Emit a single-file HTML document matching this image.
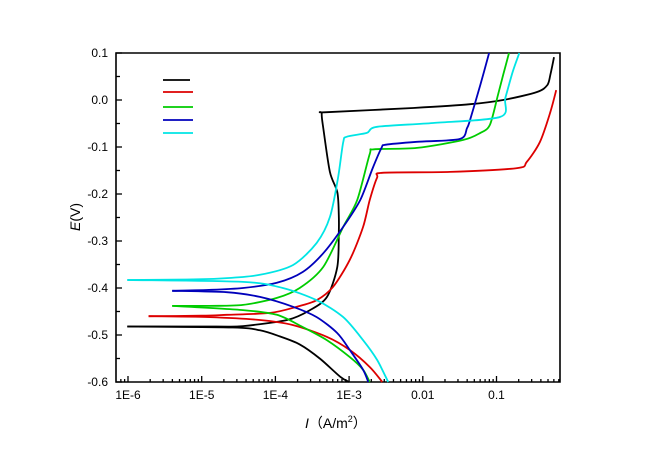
<!DOCTYPE html>
<html><head><meta charset="utf-8"><style>
body{margin:0;background:#fff;}
svg{display:block;font-family:"Liberation Sans","Noto Sans CJK SC",sans-serif;}
</style></head><body>
<svg id="chart" width="650" height="459" viewBox="0 0 650 459"></svg>
<script>
const xTickLabels=["1E-6","1E-5","1E-4","1E-3","0.01","0.1"];
const xTickLogs=[-6,-5,-4,-3,-2,-1];
const yTickValues=[0.1,0.0,-0.1,-0.2,-0.3,-0.4,-0.5,-0.6];
const yTickLabels=["0.1","0.0","-0.1","-0.2","-0.3","-0.4","-0.5","-0.6"];
const seriesColors=["#000000","#dd0000","#00cc00","#0000bb","#00e5e5"];
const blackCathLog=[-6.01,-4.58,-4.21,-3.94,-3.67,-3.39,-3.12,-3.0];
const blackCathE=[-0.482,-0.484,-0.49,-0.503,-0.52,-0.551,-0.589,-0.6];
const blackAnLog=[-6.01,-4.8,-4.44,-3.84,-3.53,-3.30,-3.16,-3.14,-3.14,-3.16,-3.26,-3.35,-3.37,-3.3,-2.13,-1.36,-0.91,-0.45,-0.31,-0.27,-0.22];
const blackAnE=[-0.482,-0.482,-0.481,-0.468,-0.447,-0.419,-0.355,-0.283,-0.245,-0.196,-0.153,-0.06,-0.028,-0.026,-0.017,-0.009,0.0,0.017,0.032,0.053,0.091];
const redCathLog=[-5.72,-4.89,-4.21,-3.76,-3.30,-2.99,-2.72,-2.55];
const redCathE=[-0.46,-0.462,-0.468,-0.479,-0.504,-0.532,-0.568,-0.6];
const redAnLog=[-5.72,-5.0,-4.66,-4.07,-3.71,-3.44,-3.22,-2.99,-2.81,-2.72,-2.62,-2.55,-1.63,-0.72,-0.59,-0.41,-0.27,-0.19];
const redAnE=[-0.46,-0.459,-0.457,-0.453,-0.44,-0.426,-0.398,-0.34,-0.27,-0.213,-0.165,-0.155,-0.153,-0.145,-0.132,-0.089,-0.026,0.021];
const greenCathLog=[-5.4,-4.44,-3.98,-3.63,-3.30,-2.99,-2.81,-2.72];
const greenCathE=[-0.438,-0.447,-0.457,-0.483,-0.511,-0.547,-0.574,-0.6];
const greenAnLog=[-5.4,-4.9,-4.44,-3.98,-3.67,-3.35,-3.08,-2.89,-2.72,-2.66,-2.08,-1.45,-1.22,-1.09,-0.98,-0.91,-0.83];
const greenAnE=[-0.438,-0.438,-0.436,-0.421,-0.4,-0.355,-0.27,-0.213,-0.115,-0.105,-0.102,-0.085,-0.07,-0.053,0.011,0.053,0.1];
const blueCathLog=[-5.4,-4.66,-4.21,-3.76,-3.44,-3.16,-2.99,-2.81,-2.74];
const blueCathE=[-0.406,-0.409,-0.419,-0.44,-0.462,-0.496,-0.532,-0.574,-0.6];
const blueAnLog=[-5.4,-4.9,-4.44,-3.98,-3.63,-3.35,-3.08,-2.85,-2.68,-2.56,-2.50,-2.08,-1.50,-1.40,-1.36,-1.22,-1.10];
const blueAnE=[-0.406,-0.404,-0.4,-0.389,-0.366,-0.326,-0.27,-0.213,-0.145,-0.102,-0.095,-0.089,-0.083,-0.06,-0.043,0.032,0.1];
const cyanCathLog=[-6.01,-4.44,-3.9,-3.44,-3.08,-2.81,-2.62,-2.47];
const cyanCathE=[-0.383,-0.387,-0.4,-0.426,-0.462,-0.511,-0.553,-0.6];
const cyanAnLog=[-6.01,-5.2,-4.66,-4.21,-3.76,-3.44,-3.26,-3.15,-3.08,-3.03,-2.76,-2.62,-1.86,-0.95,-0.88,-0.78,-0.69];
const cyanAnE=[-0.383,-0.382,-0.379,-0.372,-0.351,-0.304,-0.249,-0.166,-0.09,-0.078,-0.07,-0.057,-0.049,-0.036,0.004,0.06,0.1];

const L=116,R=560,T=53,B=382;
const xS=l=>128+73.7*(l+6);
const yS=e=>100-470*e;
const NS="http://www.w3.org/2000/svg";
const svg=document.getElementById('chart');
function mk(tag,attrs,parent){const el=document.createElementNS(NS,tag);for(const k in attrs)el.setAttribute(k,attrs[k]);(parent||svg).appendChild(el);return el;}

const frame=mk('path',{d:`M${L},${T}H${R}V${B}H${L}Z`,fill:'none',stroke:'#000','stroke-width':1.6});



const yAxis=mk('g',{});


yTickValues.forEach((v,i)=>{
  const y=yS(v);
  const t=mk('line',{x1:L,x2:L+6,y1:y,y2:y,stroke:'#000','stroke-width':1.3},yAxis);
  
  
  const tx=mk('text',{x:108,y:y+4,'text-anchor':'end','font-size':12},yAxis);
  tx.textContent=yTickLabels[i];
  
  
  if(i<yTickValues.length-1){
    const ym=yS(v-0.05);
    const m=mk('line',{x1:L,x2:L+4,y1:ym,y2:ym,stroke:'#000','stroke-width':1.3},yAxis);
    
    
  }
});

const xAxis=mk('g',{});


for(let d=-7;d<=0;d++){
  for(let k=1;k<=9;k++){
    const lg=d+Math.log10(k);
    const x=xS(lg);
    if(x<L+1||x>R-1)continue;
    const len=k===1?6:3;
    const t=mk('line',{x1:x,x2:x,y1:B,y2:B-len,stroke:'#000','stroke-width':1.3},xAxis);
    
    
  }
}
xTickLogs.forEach((lg,i)=>{
  const tx=mk('text',{x:xS(lg),y:399,'text-anchor':'middle','font-size':12},xAxis);
  tx.textContent=xTickLabels[i];
  
  
});

const xt=mk('text',{x:305,y:428,'font-size':14});
xt.innerHTML='<tspan font-style="italic">I</tspan><tspan>（A/m</tspan><tspan font-size="9" dy="-6">2</tspan><tspan dy="6">）</tspan>';


const yt=mk('text',{x:0,y:0,'font-size':14,transform:'translate(80,217) rotate(-90)','text-anchor':'middle'});
yt.innerHTML='<tspan font-style="italic">E</tspan>(V)';



const series=[
 [blackCathLog,blackCathE,blackAnLog,blackAnE],
 [redCathLog,redCathE,redAnLog,redAnE],
 [greenCathLog,greenCathE,greenAnLog,greenAnE],
 [blueCathLog,blueCathE,blueAnLog,blueAnE],
 [cyanCathLog,cyanCathE,cyanAnLog,cyanAnE]
];
const names=['black','red','green','blue','cyan'];
function pathD(xs,ys){
  const p=xs.map((l,i)=>[xS(l),yS(ys[i])]);
  let d=`M${p[0][0].toFixed(1)},${p[0][1].toFixed(1)}`;
  const k=1/7;
  for(let i=1;i<p.length;i++){
    const p0=p[Math.max(0,i-2)],p1=p[i-1],p2=p[i],p3=p[Math.min(p.length-1,i+1)];
    const c1=[p1[0]+(p2[0]-p0[0])*k,p1[1]+(p2[1]-p0[1])*k];
    const c2=[p2[0]-(p3[0]-p1[0])*k,p2[1]-(p3[1]-p1[1])*k];
    d+=`C${c1[0].toFixed(1)},${c1[1].toFixed(1)} ${c2[0].toFixed(1)},${c2[1].toFixed(1)} ${p2[0].toFixed(1)},${p2[1].toFixed(1)}`;
  }
  return d;
}
const plot=mk('g',{});


series.forEach((s,i)=>{
  const c=mk('path',{d:pathD(s[0],s[1]),fill:'none',stroke:seriesColors[i],'stroke-width':1.8,'stroke-linejoin':'round'},plot);
  
  
  const a=mk('path',{d:pathD(s[2],s[3]),fill:'none',stroke:seriesColors[i],'stroke-width':1.8,'stroke-linejoin':'round'},plot);
  
  
});

const legend=mk('g',{});


const legY=[80,92,107,120,133];
seriesColors.forEach((c,i)=>{
  const ln=mk('line',{x1:163,x2:i===0?190:193,y1:legY[i],y2:legY[i],stroke:c,'stroke-width':1.8},legend);
  
  
});
</script>
</body></html>
